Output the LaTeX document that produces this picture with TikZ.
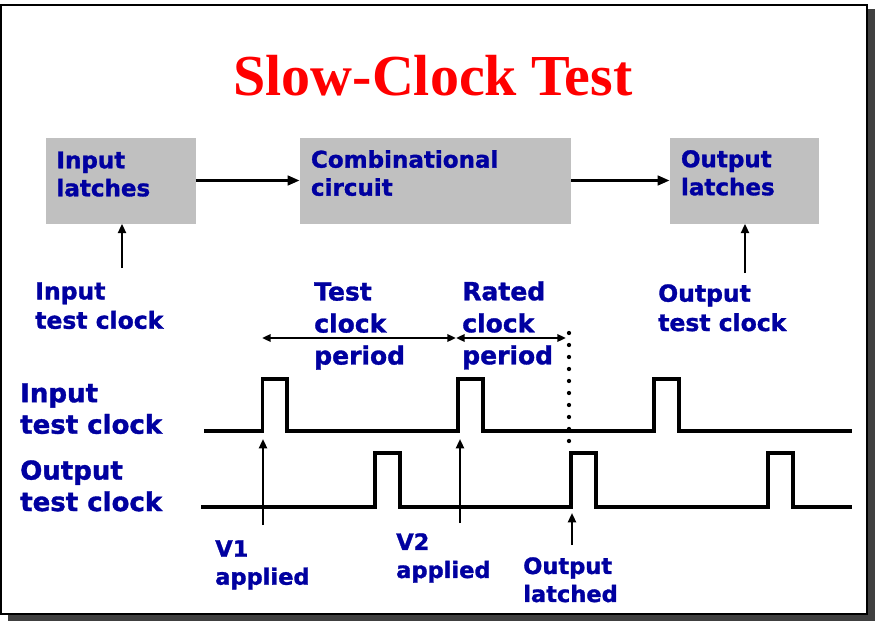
\documentclass[tikz,border=0pt]{standalone}
\usepackage{fontspec}
\setmainfont{DejaVu Sans}[BoldFeatures={FakeBold=1.3}]
\newfontfamily\titlefont{Liberation Serif}
\usetikzlibrary{arrows.meta}

\definecolor{slideblue}{RGB}{0,0,160}
\definecolor{latchgray}{RGB}{192,192,192}
\definecolor{shadowgray}{RGB}{64,64,64}

\begin{document}
\begin{tikzpicture}[
    x=0.75pt, y=-0.75pt,
    latch/.style={fill=latchgray, inner sep=0pt, minimum height=64.5pt},
    boxtext/.style={anchor=north west, inner sep=0pt, align=left, text=slideblue,
                    xshift=8.25pt, yshift=-10.5pt,
                    font=\fontsize{17.25}{21}\selectfont\bfseries},
    lbl/.style={anchor=north west, inner sep=0pt, align=left, text=slideblue,
                font=\fontsize{17.6}{22}\selectfont\bfseries},
    periodlbl/.style={lbl, font=\fontsize{18.75}{24}\selectfont\bfseries},
    wavelbl/.style={lbl, font=\fontsize{19.5}{23.6}\selectfont\bfseries},
    eventlbl/.style={lbl, font=\fontsize{16.9}{21}\selectfont\bfseries},
    flow/.style={line width=2.3pt, -{Triangle[length=9pt,width=7pt]}},
    clkarrow/.style={line width=1.6pt, -{Triangle[length=7pt,width=6pt]}},
    span/.style={line width=1.7pt, {Triangle[length=6.5pt,width=5.5pt]}-{Triangle[length=6.5pt,width=5.5pt]}},
    wave/.style={line width=2.6pt},
    marker/.style={line width=3.2pt, line cap=round, dash pattern=on 0pt off 9pt}
  ]
  \useasboundingbox (0,0) rectangle (875,621);
  % slide frame
  \fill[shadowgray] (8,9) rectangle (875,621);
  \draw[line width=1.5pt, fill=white] (1,5) rectangle (867,614);

  \node[text=red, anchor=base, font=\titlefont\fontsize{43.5}{50}\selectfont\bfseries]
    (title) at (433,95) {Slow-Clock Test};

  % blocks
  \node[latch, minimum width=112.5pt] (inlatch) at (120.5,180.5) {};
  \node[latch, minimum width=203.25pt] (comb) at (435.5,180.5) {};
  \node[latch, minimum width=111.75pt] (outlatch) at (744.5,180.5) {};
  \node[boxtext] (inlatchtxt) at (inlatch.north west) {Input\\latches};
  \node[boxtext, yshift=1pt] (combtxt) at (comb.north west) {Combinational\\circuit};
  \node[boxtext, yshift=1pt] (outlatchtxt) at (outlatch.north west) {Output\\latches};

  \draw[flow] (inlatch.east) -- (comb.west);
  \draw[flow] (comb.east) -- (outlatch.west);

  % clock inputs of the latches
  \node[lbl] (inclk) at (35,282) {Input\\test clock};
  \node[lbl] (outclk) at (658,284) {Output\\test clock};
  \coordinate (inclk tail) at (122,268);
  \coordinate (outclk tail) at (745,273);
  \draw[clkarrow] (inclk tail) -- (inclk tail |- inlatch.south);
  \draw[clkarrow] (outclk tail) -- (outclk tail |- outlatch.south);

  % periods
  \node[periodlbl] (testper) at (314,282) {Test\\clock\\period};
  \node[periodlbl] (ratedper) at (462,281) {Rated\\clock\\period};
  \coordinate (tp start) at (262,338);
  \coordinate (tp end) at (456,338);
  \coordinate (rp end) at (566,338);
  \draw[span] (tp start) -- (tp end);
  \draw[span] (tp end) -- (rp end);
  \coordinate (mark top) at (569,333);
  \coordinate (mark bot) at (569,445);
  \draw[marker] (mark top) -- (mark bot);

  % waveforms
  \node[wavelbl] (inwave) at (20,383) {Input\\test clock};
  \node[wavelbl] (outwave) at (20,460) {Output\\test clock};
  \draw[wave] (204,431) -| (262.5,379) -| (287,431) -| (458,379) -| (483,431)
    -| (654,379) -| (679,431) -- (852,431);
  \draw[wave] (201,507) -| (375,453) -| (400,507) -| (571,453) -| (596,507)
    -| (768,453) -| (793,507) -- (852,507);

  % events
  \node[eventlbl] (v1) at (215,540) {V1\\applied};
  \node[eventlbl] (v2) at (396,533) {V2\\applied};
  \node[eventlbl] (latched) at (523,557) {Output\\latched};
  \coordinate (v1 tail) at (263,525);
  \coordinate (v1 tip) at (263,439);
  \coordinate (v2 tail) at (460,523);
  \coordinate (v2 tip) at (460,439);
  \coordinate (latched tail) at (572,545);
  \coordinate (latched tip) at (572,513);
  \draw[clkarrow] (v1 tail) -- (v1 tip);
  \draw[clkarrow] (v2 tail) -- (v2 tip);
  \draw[clkarrow] (latched tail) -- (latched tip);
\end{tikzpicture}
\end{document}
